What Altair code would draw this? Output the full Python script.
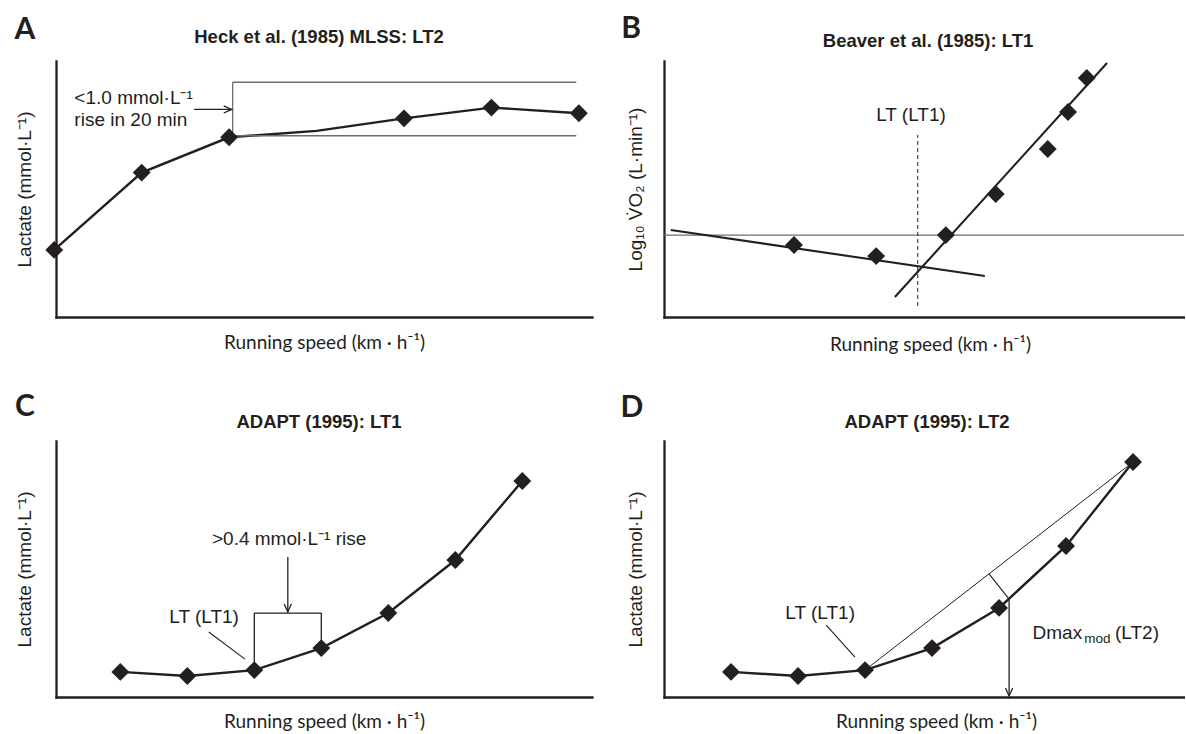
import altair as alt
import pandas as pd

INK = "#231f20"
GREY = "#6d6e71"
TXT = "Liberation Sans"
AXT = "Lato"
CHEVRON = "M-1,-0.45L0,0L-1,0.45"
NOTE_SIZE = 19

# ---------------- Panel A : Heck et al. ----------------
A_letter = "A"
A_title = "Heck et al. (1985) MLSS: LT2"
A_speed = [0, 1, 2, 3, 4, 5, 6]
A_lactate = [2.62, 5.64, 7.02, 7.27, 7.76, 8.18, 7.96]
A_marked = [True, True, True, False, True, True, True]
A_box_x = [2.04, 5.97]
A_box_y = [7.08, 9.17]
A_arrow_x = [1.60, 2.03]
A_arrow_y = 8.11
A_note_text = ["<1.0 mmol·L⁻¹", "rise in 20 min"]
A_note_x = [0.23, 0.23]
A_note_y = [8.54, 7.70]

# ---------------- Panel B : Beaver et al. ----------------
B_letter = "B"
B_title = "Beaver et al. (1985): LT1"
B_speed = [2.50, 4.08, 5.42, 6.38, 7.38, 7.77, 8.13]
B_logvo2 = [2.81, 2.38, 3.20, 4.80, 6.56, 8.01, 9.34]
B_fit1_x = [0.13, 6.17]
B_fit1_y = [3.40, 1.60]
B_fit2_x = [4.44, 8.52]
B_fit2_y = [0.78, 9.92]
B_ref_y = 3.20
B_lt_x = 4.88
B_lt_y = [0.43, 7.11]
B_lt_label = "LT (LT1)"
B_lt_label_pos = [4.75, 7.89]

# ---------------- Panel C : ADAPT LT1 ----------------
C_letter = "C"
C_title = "ADAPT (1995): LT1"
C_speed = [1, 2, 3, 4, 5, 6, 7]
C_lactate = [0.98, 0.82, 1.05, 1.91, 3.28, 5.35, 8.44]
C_bracket_top = 3.28
C_arrow_x = 3.5
C_arrow_y = [5.47, 3.32]
C_rise_label = ">0.4 mmol·L⁻¹ rise"
C_rise_pos = [3.52, 6.17]
C_lt_label = "LT (LT1)"
C_lt_pos = [2.25, 3.13]
C_pointer_x = [2.32, 2.86]
C_pointer_y = [2.54, 1.48]

# ---------------- Panel D : ADAPT LT2 ----------------
D_letter = "D"
D_title = "ADAPT (1995): LT2"
D_speed = [1, 2, 3, 4, 5, 6, 7]
D_lactate = [0.98, 0.82, 1.05, 1.91, 3.48, 5.90, 9.18]
D_perp_x = [4.85, 5.15]
D_perp_y = [4.81, 3.82]
D_arrow_x = 5.15
D_arrow_y = [3.82, 0.04]
D_lt_label = "LT (LT1)"
D_lt_pos = [2.33, 3.28]
D_pointer_x = [2.42, 2.85]
D_pointer_y = [2.81, 1.56]
D_dmax_parts = ["Dmax", "mod", "(LT2)"]
D_dmax_x = [5.50, 6.27, 6.73]
D_dmax_y = [2.50, 2.26, 2.50]
D_dmax_size = [19, 13.5, 19]

X_TITLE = "Running speed (km · h⁻¹)"
Y_LACT = "Lactate (mmol·L⁻¹)"
Y_VO2 = "Log₁₀ V\u0307O₂ (L·min⁻¹)"


def make_cfg(w, h, xd, yd, ytitle, ypad, xpad, title_x=None):
    xa = dict(title=X_TITLE, labels=False, ticks=False, grid=False, domainColor=INK,
              domainWidth=2.3, domainCap="square", titleFont=AXT, titleFontSize=19,
              titleFontWeight="normal", titleColor=INK, titlePadding=xpad)
    if title_x is not None:
        xa["titleX"] = title_x
    ya = dict(title=ytitle, labels=False, ticks=False, grid=False, domainColor=INK,
              domainWidth=2.3, domainCap="square", titleFont=TXT, titleFontSize=19,
              titleFontWeight="normal", titleColor=INK, titlePadding=ypad)
    return {
        "w": w, "h": h,
        "xs": alt.Scale(domain=xd, nice=False, zero=False),
        "ys": alt.Scale(domain=yd, nice=False, zero=False),
        "xa": alt.Axis(**xa), "ya": alt.Axis(**ya),
    }


def XY(c):
    return {"x": alt.X("x", type="quantitative", scale=c["xs"], axis=c["xa"]),
            "y": alt.Y("y", type="quantitative", scale=c["ys"], axis=c["ya"])}


def segments(c, x, y, x2, y2, width, color=INK, dash=None):
    df = pd.DataFrame({"x": x, "y": y, "x2": x2, "y2": y2})
    kw = dict(strokeWidth=width, color=color)
    if dash:
        kw["strokeDash"] = dash
    return alt.Chart(df).mark_rule(**kw).encode(**XY(c), x2="x2:Q", y2="y2:Q")


def curve(c, xs, ys):
    df = pd.DataFrame({"x": xs, "y": ys})
    return alt.Chart(df).mark_line(color=INK, strokeWidth=2.4).encode(**XY(c))


def diamonds(c, xs, ys):
    df = pd.DataFrame({"x": xs, "y": ys})
    return alt.Chart(df).mark_point(shape="diamond", filled=True, size=320, color=INK,
                                    opacity=1).encode(**XY(c))


def arrowhead(c, x, y, angle):
    df = pd.DataFrame({"x": [x], "y": [y]})
    kw = dict(shape=CHEVRON, size=256, filled=False, strokeWidth=1.3, color=INK, opacity=1)
    if angle:
        kw["angle"] = angle
    return alt.Chart(df).mark_point(**kw).encode(**XY(c))


def labels(c, texts, xs, ys, align="center", size=NOTE_SIZE):
    df = pd.DataFrame({"x": xs, "y": ys, "t": texts})
    return alt.Chart(df).mark_text(font=TXT, fontSize=size, align=align, baseline="middle",
                                   color=INK).encode(**XY(c), text="t:N")


def header(text, px, py, font, size, weight="bold"):
    df = pd.DataFrame({"t": [text]})
    return alt.Chart(df).mark_text(font=font, fontSize=size, fontWeight=weight, color=INK,
                                   align="center", baseline="middle").encode(
        x=alt.value(px), y=alt.value(py), text="t:N")


# ---------------- build panel A ----------------
cA = make_cfg(536, 256, [0.02, 6.15], [0, 10], Y_LACT, 21.5, 16.5)
A_mx = [s for s, m in zip(A_speed, A_marked) if m]
A_my = [v for v, m in zip(A_lactate, A_marked) if m]
panelA = alt.layer(
    curve(cA, A_speed, A_lactate),
    segments(cA, [A_box_x[0], A_box_x[0], A_box_x[0]], [A_box_y[0], A_box_y[1], A_box_y[0]],
             [A_box_x[0], A_box_x[1], A_box_x[1]], [A_box_y[1], A_box_y[1], A_box_y[0]],
             1.3, GREY),
    segments(cA, [A_arrow_x[0]], [A_arrow_y], [A_arrow_x[1]], [A_arrow_y], 1.3),
    arrowhead(cA, A_arrow_x[1], A_arrow_y, 0),
    labels(cA, A_note_text, A_note_x, A_note_y, align="left"),
    diamonds(cA, A_mx, A_my),
    header(A_title, 263, -24, TXT, 18.5),
    header(A_letter, -31, -31, AXT, 30),
).properties(width=cA["w"], height=cA["h"])

# ---------------- build panel B ----------------
cB = make_cfg(520, 256, [0, 10], [0, 10], Y_VO2, 18.5, 18, title_x=266)
panelB = alt.layer(
    segments(cB, [0], [B_ref_y], [10], [B_ref_y], 1.3, GREY),
    segments(cB, [B_fit1_x[0], B_fit2_x[0]], [B_fit1_y[0], B_fit2_y[0]],
             [B_fit1_x[1], B_fit2_x[1]], [B_fit1_y[1], B_fit2_y[1]], 2.1),
    segments(cB, [B_lt_x], [B_lt_y[0]], [B_lt_x], [B_lt_y[1]], 1.0, INK, [4, 3]),
    labels(cB, [B_lt_label], [B_lt_label_pos[0]], [B_lt_label_pos[1]]),
    diamonds(cB, B_speed, B_logvo2),
    header(B_title, 264, -20, TXT, 18.5),
    header(B_letter, -33, -32, AXT, 30),
).properties(width=cB["w"], height=cB["h"])

# ---------------- build panel C ----------------
cC = make_cfg(536, 256, [0.04, 8.04], [0, 10], Y_LACT, 21.5, 15.5)
panelC = alt.layer(
    segments(cC, [C_speed[2], C_speed[2], C_speed[3]], [C_lactate[2], C_bracket_top, C_bracket_top],
             [C_speed[2], C_speed[3], C_speed[3]], [C_bracket_top, C_bracket_top, C_lactate[3]], 1.3),
    segments(cC, [C_arrow_x], [C_arrow_y[0]], [C_arrow_x], [C_arrow_y[1]], 1.3),
    arrowhead(cC, C_arrow_x, C_arrow_y[1], 90),
    segments(cC, [C_pointer_x[0]], [C_pointer_y[0]], [C_pointer_x[1]], [C_pointer_y[1]], 1.1),
    labels(cC, [C_rise_label, C_lt_label], [C_rise_pos[0], C_lt_pos[0]], [C_rise_pos[1], C_lt_pos[1]]),
    curve(cC, C_speed, C_lactate),
    diamonds(cC, C_speed, C_lactate),
    header(C_title, 263, -19, TXT, 18.5),
    header(C_letter, -31, -34, AXT, 30),
).properties(width=cC["w"], height=cC["h"])

# ---------------- build panel D ----------------
cD = make_cfg(520, 256, [0, 7.76], [0, 10], Y_LACT, 18.5, 15.5, title_x=272)
panelD = alt.layer(
    segments(cD, [D_speed[2]], [D_lactate[2]], [D_speed[6]], [D_lactate[6]], 1.0),
    segments(cD, [D_perp_x[0]], [D_perp_y[0]], [D_perp_x[1]], [D_perp_y[1]], 1.1),
    segments(cD, [D_arrow_x], [D_arrow_y[0]], [D_arrow_x], [D_arrow_y[1]], 1.3),
    arrowhead(cD, D_arrow_x, D_arrow_y[1], 90),
    segments(cD, [D_pointer_x[0]], [D_pointer_y[0]], [D_pointer_x[1]], [D_pointer_y[1]], 1.1),
    labels(cD, [D_lt_label], [D_lt_pos[0]], [D_lt_pos[1]]),
    labels(cD, [D_dmax_parts[0]], [D_dmax_x[0]], [D_dmax_y[0]], align="left", size=D_dmax_size[0]),
    labels(cD, [D_dmax_parts[1]], [D_dmax_x[1]], [D_dmax_y[1]], align="left", size=D_dmax_size[1]),
    labels(cD, [D_dmax_parts[2]], [D_dmax_x[2]], [D_dmax_y[2]], align="left", size=D_dmax_size[2]),
    curve(cD, D_speed, D_lactate),
    diamonds(cD, D_speed, D_lactate),
    header(D_title, 263, -19, TXT, 18.5),
    header(D_letter, -32, -33, AXT, 30),
).properties(width=cD["w"], height=cD["h"])

chart = alt.concat(
    panelA, panelB, panelC, panelD,
    columns=2,
    spacing={"row": 124, "column": 72},
    bounds="flush",
).properties(
    padding={"left": 14, "top": 14, "right": 0, "bottom": 0},
    background="white",
).configure_view(stroke=None)

chart.save("out.html", embed_options={"renderer": "svg", "actions": False})
